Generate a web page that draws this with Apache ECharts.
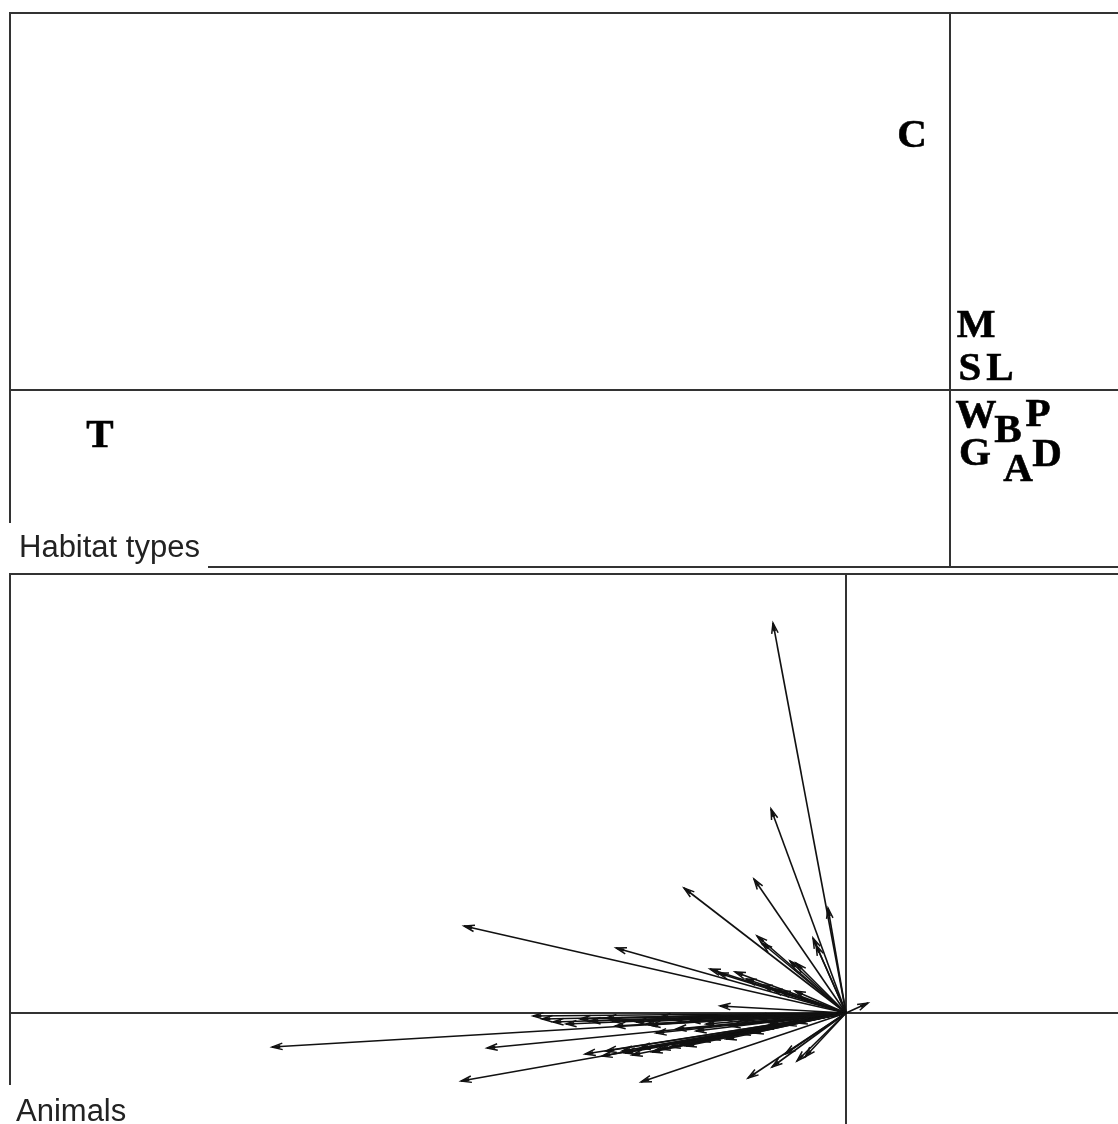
<!DOCTYPE html>
<html>
<head>
<meta charset="utf-8">
<title>Habitat types and animals</title>
<script src="https://cdn.jsdelivr.net/npm/echarts@6/dist/echarts.min.js"></script>
<style>
  html, body { margin: 0; padding: 0; background: #fff; }
  #chart { width: 1118px; height: 1124px; }
</style>
</head>
<body>
<div id="chart"></div>
<script>
// Habitat type scores (first two axes)
const habitatLabels = ['C', 'M', 'S', 'L', 'W', 'B', 'P', 'G', 'A', 'D', 'T'];
const habitatX = [-0.19, 0.13, 0.10, 0.25, 0.13, 0.29, 0.44, 0.125, 0.34, 0.485, -4.25];
const habitatY = [1.28, 0.33, 0.115, 0.115, -0.12, -0.195, -0.115, -0.31, -0.39, -0.315, -0.22];

// Animal loadings (arrow tips, first two axes)
const animalX = [
  -0.365, -0.375, -0.46, -0.81, -0.09, -0.165, -0.15, -0.445, -0.42, -0.28, -0.25,
  -1.91, -1.15, -0.68, -0.64, -0.555, -0.5, -0.42, -0.37, -0.33, -0.255, 0.11, -0.63,
  -1.565, -1.52, -1.465, -1.4, -1.33, -1.28, -1.2, -1.17, -1.155, -1.05, -1.0, -0.98,
  -0.93, -0.86, -0.85, -0.78, -0.75, -0.7, -0.62, -0.58, -0.53, -0.45, -0.38, -0.3, -0.95,
  -2.87, -1.795, -1.925, -1.025, -1.305, -1.22, -1.2, -1.12, -1.105, -1.07, -1.03, -0.97,
  -0.93, -0.88, -0.83, -0.8, -0.73, -0.68, -0.63, -0.6, -0.53, -0.465, -0.415,
  -0.245, -0.49, -0.37, -0.245, -0.305, -0.205
];
const animalY = [
  1.95, 1.02, 0.67, 0.625, 0.525, 0.375, 0.34, 0.385, 0.35, 0.26, 0.25,
  0.435, 0.325, 0.22, 0.2, 0.205, 0.17, 0.14, 0.12, 0.11, 0.11, 0.05, 0.035,
  -0.015, -0.03, -0.045, -0.055, -0.03, -0.04, -0.025, -0.04, -0.065, -0.045, -0.055, -0.06,
  -0.02, -0.035, -0.08, -0.04, -0.09, -0.055, -0.03, -0.065, -0.035, -0.02, -0.05, -0.06, -0.1,
  -0.17, -0.175, -0.34, -0.345, -0.205, -0.215, -0.19, -0.19, -0.2, -0.21, -0.175, -0.195,
  -0.18, -0.17, -0.155, -0.165, -0.14, -0.13, -0.12, -0.13, -0.105, -0.1, -0.075,
  -0.05, -0.325, -0.27, -0.24, -0.205, -0.22
];

const frameColor = '#333';
const inkColor = '#111';

function panelAxis(min, max) {
  return {
    type: 'value', min: min, max: max,
    axisLine: { show: true, onZero: true, lineStyle: { color: frameColor, width: 2 } },
    axisTick: { show: false }, axisLabel: { show: false }, splitLine: { show: false }
  };
}

const chart = echarts.init(document.getElementById('chart'), null, { renderer: 'canvas' });

chart.setOption({
  animation: false,
  backgroundColor: '#fff',
  grid: [
    { left: 10, top: 13, width: 1140, height: 554, show: true, borderColor: frameColor, borderWidth: 2,
      backgroundColor: 'transparent', outerBoundsMode: 'none', containLabel: false },
    { left: 10, top: 574, width: 1140, height: 556, show: true, borderColor: frameColor, borderWidth: 2,
      backgroundColor: 'transparent', outerBoundsMode: 'none', containLabel: false }
  ],
  xAxis: [
    Object.assign(panelAxis(-4.7, 1.0), { gridIndex: 0 }),
    Object.assign(panelAxis(-4.18, 1.52), { gridIndex: 1 })
  ],
  yAxis: [
    Object.assign(panelAxis(-0.885, 1.885), { gridIndex: 0 }),
    Object.assign(panelAxis(-0.585, 2.195), { gridIndex: 1 })
  ],
  series: [
    {
      // habitat labels centred on their scores
      type: 'custom',
      xAxisIndex: 0, yAxisIndex: 0,
      data: habitatLabels.map((name, i) => [habitatX[i], habitatY[i], name]),
      renderItem: function (params, api) {
        const p = api.coord([api.value(0), api.value(1)]);
        const name = habitatLabels[params.dataIndex];
        return {
          type: 'text', x: p[0], y: p[1] + 2,
          style: {
            text: name, fill: '#000', stroke: '#000', lineWidth: 0.6,
            font: 'bold 41px "Liberation Serif", "Times New Roman", serif',
            align: 'center', verticalAlign: 'middle'
          }
        };
      }
    },
    {
      // animal arrows from the origin
      type: 'custom',
      xAxisIndex: 1, yAxisIndex: 1,
      data: animalX.map((x, i) => [x, animalY[i]]),
      renderItem: function (params, api) {
        const o = api.coord([0, 0]);
        const p = api.coord([api.value(0), api.value(1)]);
        const ang = Math.atan2(p[1] - o[1], p[0] - o[0]);
        const len = 11, spread = 0.3;
        const b1 = [p[0] - len * Math.cos(ang - spread), p[1] - len * Math.sin(ang - spread)];
        const b2 = [p[0] - len * Math.cos(ang + spread), p[1] - len * Math.sin(ang + spread)];
        const w1 = [p[0] - 8 * Math.cos(ang - 0.14), p[1] - 8 * Math.sin(ang - 0.14)];
        const w2 = [p[0] - 8 * Math.cos(ang + 0.14), p[1] - 8 * Math.sin(ang + 0.14)];
        return {
          type: 'group',
          children: [
            { type: 'line', shape: { x1: o[0], y1: o[1], x2: p[0], y2: p[1] },
              style: { stroke: inkColor, lineWidth: 1.6 } },
            { type: 'polygon', shape: { points: [w1, p, w2] },
              style: { fill: inkColor, stroke: inkColor, lineWidth: 1 } },
            { type: 'polyline', shape: { points: [b1, p, b2] },
              style: { stroke: inkColor, lineWidth: 1.5, fill: null } }
          ]
        };
      }
    }
  ],
  graphic: [
    { type: 'rect', z: 100, shape: { x: 7, y: 523, width: 201, height: 46 }, style: { fill: '#fff' } },
    { type: 'text', z: 101, x: 19, y: 548,
      style: { text: 'Habitat types', fill: '#222', font: '31px "Liberation Sans", Arial, sans-serif',
               align: 'left', verticalAlign: 'middle' } },
    { type: 'rect', z: 100, shape: { x: 7, y: 1085, width: 130, height: 50 }, style: { fill: '#fff' } },
    { type: 'text', z: 101, x: 16, y: 1112,
      style: { text: 'Animals', fill: '#222', font: '31px "Liberation Sans", Arial, sans-serif',
               align: 'left', verticalAlign: 'middle' } }
  ]
});
</script>
</body>
</html>
